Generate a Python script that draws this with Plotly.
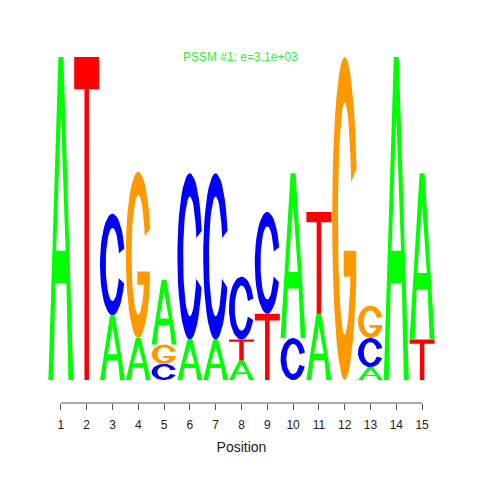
import numpy as np
import plotly.graph_objects as go

# ---- data (bits per nucleotide at each position) ----
positions = list(range(1, 16))
bits_A = [2.00, 0.00, 0.40, 0.26, 0.40, 0.25, 0.25, 0.12, 0.00, 1.02, 0.41, 0.00, 0.08, 2.00, 1.03]
bits_C = [0.00, 0.00, 0.63, 0.00, 0.10, 1.03, 1.03, 0.39, 0.63, 0.26, 0.00, 0.00, 0.18, 0.00, 0.00]
bits_G = [0.00, 0.00, 0.00, 1.03, 0.12, 0.00, 0.00, 0.00, 0.00, 0.00, 0.00, 2.00, 0.20, 0.00, 0.00]
bits_T = [0.00, 2.00, 0.00, 0.00, 0.00, 0.00, 0.00, 0.13, 0.41, 0.00, 0.63, 0.00, 0.00, 0.00, 0.25]
tick_labels = [str(p) for p in positions]
title_text = "PSSM #1; e=3.1e+03"
x_title = "Position"

colors = {"A": "#00FF00", "C": "#0000FF", "G": "#FF9900", "T": "#FF0000"}


# ---- glyph outlines in a unit box (style only) ----
def arc(cx, cy, rx, ry, a0, a1, n=40):
    t = np.radians(np.linspace(a0, a1, n))
    return list(cx + rx * np.cos(t)), list(cy + ry * np.sin(t))


def glyph(letter):
    if letter == "A":
        ox = [0.0, 0.40, 0.60, 1.0, 0.80, 0.72, 0.28, 0.20, 0.0]
        oy = [0.0, 1.0, 1.0, 0.0, 0.0, 0.30, 0.30, 0.0, 0.0]
        hx = [0.31, 0.69, 0.50, 0.31]
        hy = [0.40, 0.40, 0.82, 0.40]
        return ox + [None] + hx, oy + [None] + hy
    if letter == "T":
        xs = [0.0, 1.0, 1.0, 0.59, 0.59, 0.41, 0.41, 0.0, 0.0]
        ys = [1.0, 1.0, 0.90, 0.90, 0.0, 0.0, 0.90, 0.90, 1.0]
        return xs, ys
    if letter == "C":
        x1, y1 = arc(0.5, 0.5, 0.5, 0.5, 18, 338)
        x2, y2 = arc(0.5, 0.5, 0.27, 0.36, 338, 18)
        return x1 + x2 + [x1[0]], y1 + y2 + [y1[0]]
    if letter == "G":
        x1, y1 = arc(0.5, 0.5, 0.5, 0.5, 18, 337)
        mid_x = [0.96, 0.96, 0.46, 0.46, 0.72]
        mid_y = [0.40, 0.40, 0.40, 0.32, 0.32]
        mid_y[0] = y1[-1]
        x2, y2 = arc(0.5, 0.5, 0.27, 0.36, -35, -342)
        return x1 + mid_x + x2 + [x1[0]], y1 + mid_y + y2 + [y1[0]]


fig = go.Figure()
half_w = 0.485
for i, p in enumerate(positions):
    stack = [("A", bits_A[i]), ("C", bits_C[i]), ("G", bits_G[i]), ("T", bits_T[i])]
    stack = sorted([s for s in stack if s[1] > 0], key=lambda s: s[1])
    base = 0.0
    for letter, h in stack:
        gx, gy = glyph(letter)
        xs = [None if v is None else p - half_w + v * 2 * half_w for v in gx]
        ys = [None if v is None else base + v * h for v in gy]
        fig.add_trace(go.Scatter(
            x=xs, y=ys, mode="lines", fill="toself",
            fillcolor=colors[letter], line=dict(width=0, color=colors[letter]),
            hoverinfo="skip", showlegend=False))
        base += h

fig.add_shape(type="line", xref="x", yref="paper",
              x0=positions[0], x1=positions[-1], y0=0, y1=0,
              line=dict(color="#555555", width=1))

fig.add_annotation(text=title_text, xref="paper", yref="paper",
                   x=0.497, y=0.978, showarrow=False,
                   font=dict(color="#33EE33", size=12, family="Liberation Sans, Arial"))

fig.update_layout(
    width=472, height=472,
    margin=dict(l=40, r=45, t=32, b=77),
    paper_bgcolor="white", plot_bgcolor="white",
    font=dict(family="Liberation Sans, Arial", size=12, color="#222222"),
    xaxis=dict(range=[0.5, 15.5], tickmode="array", tickvals=positions,
               ticktext=tick_labels, ticks="outside", ticklen=6,
               tickcolor="#555555", showgrid=False, zeroline=False,
               showline=False, ticklabelstandoff=5,
               title=dict(text=x_title, standoff=10)),
    yaxis=dict(range=[-0.1424, 2.105], visible=False, showgrid=False,
               zeroline=False),
)

fig.write_html("out.html")
